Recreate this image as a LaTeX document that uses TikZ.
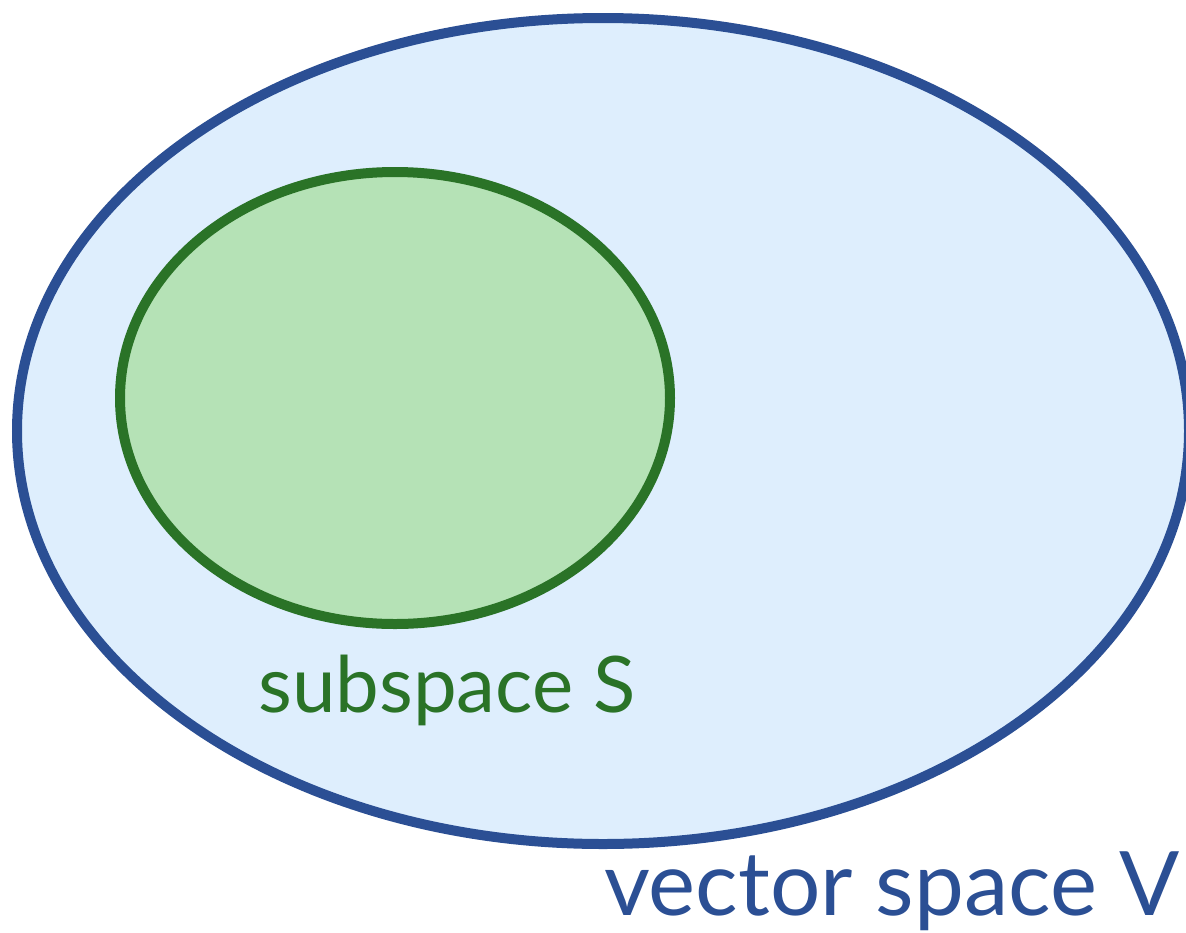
\documentclass[tikz,border=0pt]{standalone}
\usepackage{fontspec}
\setmainfont{Lato}
\definecolor{vblue}{HTML}{2B4F94}
\definecolor{vfill}{HTML}{DEEEFD}
\definecolor{sgreen}{HTML}{2A7327}
\definecolor{sfill}{HTML}{B5E2B6}
\begin{document}
\begin{tikzpicture}[x=1pt,y=-1pt,
  lbl/.style={inner sep=0pt,anchor=base}]
\useasboundingbox (0,0) rectangle (1186,932);
\begin{scope}
\clip (0,0) rectangle (1186,932);
\draw[vblue,fill=vfill,line width=10pt] (603,431) ellipse [x radius=586,y radius=413];
\end{scope}
\draw[sgreen,fill=sfill,line width=10pt] (395,398) ellipse [x radius=275,y radius=226];
\node[lbl,text=sgreen,font=\fontsize{78}{82}\selectfont] (s) at (447,712) {subspace S};
\node[lbl,text=vblue,font=\fontsize{89}{94}\selectfont] (v) at (892,915) {vector space V};
\end{tikzpicture}
\end{document}
